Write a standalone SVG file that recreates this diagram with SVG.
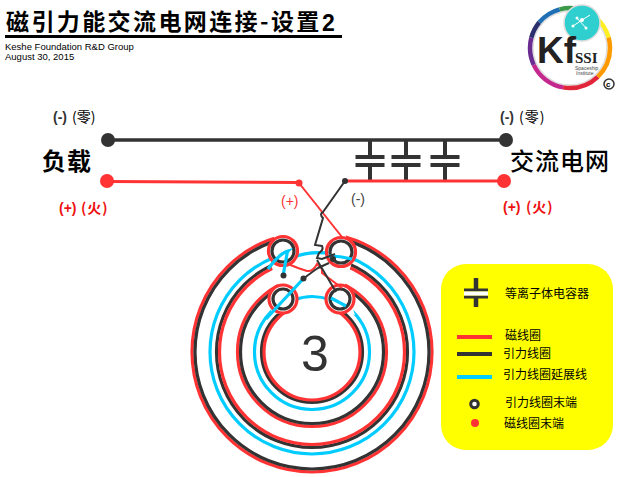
<svg xmlns="http://www.w3.org/2000/svg" width="620" height="477" viewBox="0 0 620 477">
<style>
text{font-family:"Noto Sans CJK SC","Liberation Sans",sans-serif;fill:#000}
.lat{font-family:"Liberation Sans","Noto Sans CJK SC",sans-serif}
.r{fill:none;stroke:#f33;stroke-width:3.2}
.k{fill:none;stroke:#333;stroke-width:3.2}
.c{fill:none;stroke:#0cf;stroke-width:3.2}
.th{fill:none;stroke:#333;stroke-width:2}
.tr{fill:none;stroke:#f33;stroke-width:2}
.cap{fill:none;stroke:#333;stroke-width:4}
.seg{fill:none;stroke-width:4.5}
.lbl{font-size:12px}
.sign{font-size:14px;font-weight:700}
.cn{font-size:14px}
</style>
<defs>
<g id="capsym"><path class="cap" d="M0 0V17M-14.500 17H14.500M-14.500 25H14.500M0 25V41"/></g>
</defs>
<g id="title">
<text x="6" y="30" font-size="23" font-weight="700" letter-spacing="2.400">磁引力能交流电网连接-设置</text>
<text class="lat" x="322" y="31" font-size="23" font-weight="700">2</text>
<rect x="5" y="35" width="337" height="3" fill="#000"/>
<text class="lat" x="5" y="50" font-size="9.500">Keshe Foundation R&amp;D Group</text>
<text class="lat" x="5" y="60" font-size="9.500">August 30, 2015</text>
</g>
<g id="logo">
<circle cx="570" cy="48" r="37" fill="#fff" stroke="#ddd" stroke-width="1.500"/>
<circle class="seg" cx="570" cy="48" r="40" pathLength="360" stroke="#fe2" stroke-dasharray="35 325" stroke-dashoffset="50"/>
<circle class="seg" cx="570" cy="48" r="40" pathLength="360" stroke="#f90" stroke-dasharray="61 299" stroke-dashoffset="15"/>
<circle class="seg" cx="570" cy="48" r="40" pathLength="360" stroke="#e2263a" stroke-dasharray="54 306" stroke-dashoffset="-46"/>
<circle class="seg" cx="570" cy="48" r="40" pathLength="360" stroke="#c4288e" stroke-dasharray="55 305" stroke-dashoffset="-100"/>
<circle class="seg" cx="570" cy="48" r="40" pathLength="360" stroke="#6a2c91" stroke-dasharray="40 320" stroke-dashoffset="-155"/>
<circle class="seg" cx="570" cy="48" r="40" pathLength="360" stroke="#2b2f6e" stroke-dasharray="25 335" stroke-dashoffset="-195"/>
<circle class="seg" cx="570" cy="48" r="40" pathLength="360" stroke="#1f6fb5" stroke-dasharray="35 325" stroke-dashoffset="-220"/>
<circle class="seg" cx="570" cy="48" r="40" pathLength="360" stroke="#3a9a4a" stroke-dasharray="50 310" stroke-dashoffset="-255"/>
<circle cx="582" cy="23" r="18" fill="#2fcfcf" stroke="#ddd" stroke-width="1.500"/>
<path d="M573 26L582 20L590 15M577 18L586 28" fill="none" stroke="#fff" stroke-width="1"/>
<circle cx="577" cy="18" r="1.500" fill="#fff"/><circle cx="582" cy="20" r="2" fill="#fff"/><circle cx="573" cy="26" r="1.500" fill="#fff"/><circle cx="586" cy="28" r="1.500" fill="#fff"/>
<text class="lat" x="537" y="63" font-size="37" font-weight="700" style="fill:#222">Kf</text>
<text x="575" y="63" font-size="15" font-weight="700" style="font-family:'Liberation Serif',serif;fill:#222">SSI</text>
<text class="lat" x="575" y="70" font-size="5" style="fill:#444">Spaceship</text>
<text class="lat" x="576" y="75" font-size="5" style="fill:#444">Institute</text>
<circle cx="609" cy="84" r="5" fill="none" stroke="#333" stroke-width="1.500"/>
<text class="lat" x="606" y="87" font-size="8" font-weight="700">c</text>
</g>
<g id="connectors">
<path class="k" style="stroke-width:3.500" d="M108 140H506"/>
<use href="#capsym" x="370" y="140"/>
<use href="#capsym" x="406" y="140"/>
<use href="#capsym" x="445" y="140"/>
<path class="r" d="M108 181.500L299 182.500"/>
<path class="r" d="M345 181H505"/>
</g>
<g id="node-coil">
<circle class="r" cx="312" cy="352" r="120"/>
<circle class="k" cx="312" cy="352" r="117"/>
<circle class="c" cx="312" cy="352" r="102"/>
<circle class="k" cx="312" cy="352" r="95.500"/>
<circle class="r" cx="312" cy="352" r="92.500"/>
<circle class="r" cx="312" cy="352" r="74.500"/>
<circle class="k" cx="312" cy="352" r="71.500"/>
<circle class="c" cx="312" cy="352" r="57.500"/>
<circle class="k" cx="312" cy="352" r="50.500"/>
<circle class="r" cx="312" cy="352" r="48"/>
<path d="M290 215H334L345 232L352 262L345 285L355 315L335 310L312 340L290 312L270 315L278 285L270 262L275 232Z" fill="#fff"/>
<path class="c" d="M292 257.500Q312 250 332 254Q348 257 356 260"/>
<path class="c" d="M294 300Q312 293 331 300L346 306"/>
<circle class="r" cx="283" cy="251" r="14.500" style="fill:#fff"/>
<circle class="r" cx="341" cy="252" r="14.500" style="fill:#fff"/>
<circle class="r" cx="283" cy="299" r="14" style="fill:#fff"/>
<circle class="r" cx="340" cy="299" r="14" style="fill:#fff"/>
<circle class="k" cx="283" cy="251" r="11"/>
<circle class="k" cx="341" cy="252" r="11"/>
<circle class="k" cx="283" cy="299" r="10"/>
<circle class="k" cx="340" cy="299" r="10"/>
<path class="c" d="M268 269Q280 253 288 251Q287 252 287 254L283 276"/>
<path class="c" d="M266 319L303 279"/>
<path class="c" d="M329 256Q340 256 352 259"/>
<path class="c" d="M331 298L346 306"/>
<path class="tr" d="M299 183L342 237"/>
<path class="tr" d="M288 264L298 268L307 271Q313 272 317 264L322 269L322 273L342 288"/>
<path class="th" d="M345 181L323 212Q319 214 323 218L315 245L322 246Q324 250 319 253L317 258L322 259L335 254M317 260L336 292M303 279Q312 272 318 268L329 263"/>
<circle cx="333" cy="259" r="3" fill="#333"/>
<circle cx="283.500" cy="275.500" r="3" fill="#333"/>
<circle cx="303.500" cy="278.500" r="3" fill="#333"/>
<text class="lat" x="301" y="371" font-size="50" style="fill:#333">3</text>
</g>
<g id="node-load">
<circle cx="108" cy="140" r="7" fill="#333"/>
<circle cx="107" cy="181" r="7" fill="#f33"/>
<circle cx="299" cy="183" r="3.500" fill="#f33"/>
<text x="42" y="170" font-size="24" font-weight="700" letter-spacing="1">负载</text>
<text class="lat sign" x="53" y="122" style="fill:#333">(-)</text>
<text class="cn" x="72" y="122">(零)</text>
<text class="lat sign" x="59" y="213" style="fill:#e11">(+)</text>
<text class="cn" x="81" y="213" style="fill:#e11;font-weight:700" letter-spacing="1">(火)</text>
<text class="lat" x="281" y="206" font-size="14" style="fill:#f33">(+)</text>
</g>
<g id="node-grid">
<circle cx="506" cy="140" r="7" fill="#333"/>
<circle cx="504" cy="181" r="7" fill="#f33"/>
<circle cx="345" cy="181" r="3" fill="#333"/>
<text x="510" y="170" font-size="24" letter-spacing="1" font-weight="500">交流电网</text>
<text class="lat sign" x="500" y="122" style="fill:#333">(-)</text>
<text class="cn" x="519" y="122" letter-spacing="1">(零)</text>
<text class="lat sign" x="503" y="212" style="fill:#e11">(+)</text>
<text class="cn" x="526" y="212" style="fill:#e11;font-weight:700" letter-spacing="1">(火)</text>
<text class="lat" x="351" y="204" font-size="14" style="fill:#444">(-)</text>
</g>
<g id="legend">
<rect x="441" y="264" width="172" height="186" rx="25" fill="#ff0"/>
<path d="M476 278V289M476 298V307" stroke="#333" stroke-width="4.500" fill="none"/>
<path d="M464 290H488M464 297H488" stroke="#333" stroke-width="3" fill="none"/>
<path d="M464 293.500H488" stroke="#fff" stroke-width="4" fill="none"/>
<text class="lbl" x="505" y="298">等离子体电容器</text>
<path d="M457 337H492" stroke="#f33" stroke-width="4"/>
<path d="M457 354H492" stroke="#333" stroke-width="4"/>
<path d="M457 377H492" stroke="#0cf" stroke-width="4"/>
<text class="lbl" x="505" y="340">磁线圈</text>
<text class="lbl" x="503" y="358">引力线圈</text>
<text class="lbl" x="503" y="379">引力线圈延展线</text>
<circle cx="474.500" cy="404" r="3.800" fill="#fff" stroke="#333" stroke-width="3"/>
<circle cx="475" cy="423" r="4" fill="#f33"/>
<text class="lbl" x="505" y="407">引力线圈末端</text>
<text class="lbl" x="504" y="428">磁线圈末端</text>
</g>
</svg>
